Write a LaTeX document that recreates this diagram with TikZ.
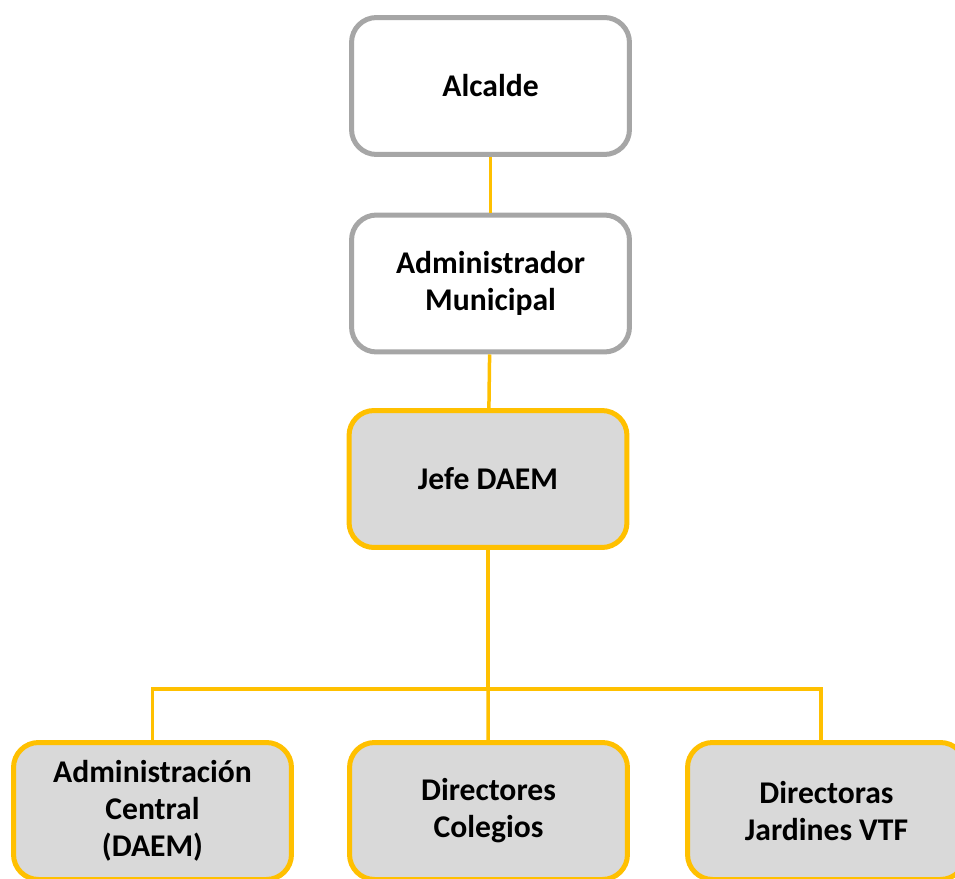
\documentclass[tikz,border=0pt]{standalone}
\usepackage{fontspec}
\setmainfont{Carlito}
\definecolor{gris}{HTML}{A6A6A6}
\definecolor{oro}{HTML}{FFC000}
\definecolor{relleno}{HTML}{D9D9D9}

\begin{document}
\begin{tikzpicture}[x=0.02cm, y=-0.02cm, font=\bfseries\fontsize{18}{21}\selectfont,
  caja/.style={rounded corners=0.5cm, minimum width=5.56cm, minimum height=2.74cm, align=center, line width=0.1cm},
  blanca/.style={caja, draw=gris, fill=white},
  dorada/.style={caja, draw=oro, fill=relleno},
  linea/.style={draw=oro, line width=0.07cm}]
  \clip (0,0) rectangle (955,878);
  \node[blanca](alcalde) at (490.5,86){Alcalde};
  \node[blanca](admin) at (490.5,283.5){Administrador\\Municipal};
  \node[dorada](jefe) at (488,479){Jefe DAEM};
  \node[dorada](central) at (152.5,811){Administración\\Central\\(DAEM)};
  \node[dorada](colegios) at (488.5,811){Directores\\Colegios};
  \node[dorada](jardines) at (826.5,811){Directoras\\Jardines VTF};
  \coordinate (bus) at (488,689);
  \draw[linea](alcalde)--(admin);
  \draw[linea](admin)--(jefe);
  \draw[linea](jefe)--(bus);
  \draw[linea](bus)-|(central);
  \draw[linea](bus)--(colegios);
  \draw[linea](bus)-|([xshift=-0.11cm]jardines.north);
\end{tikzpicture}
\end{document}
